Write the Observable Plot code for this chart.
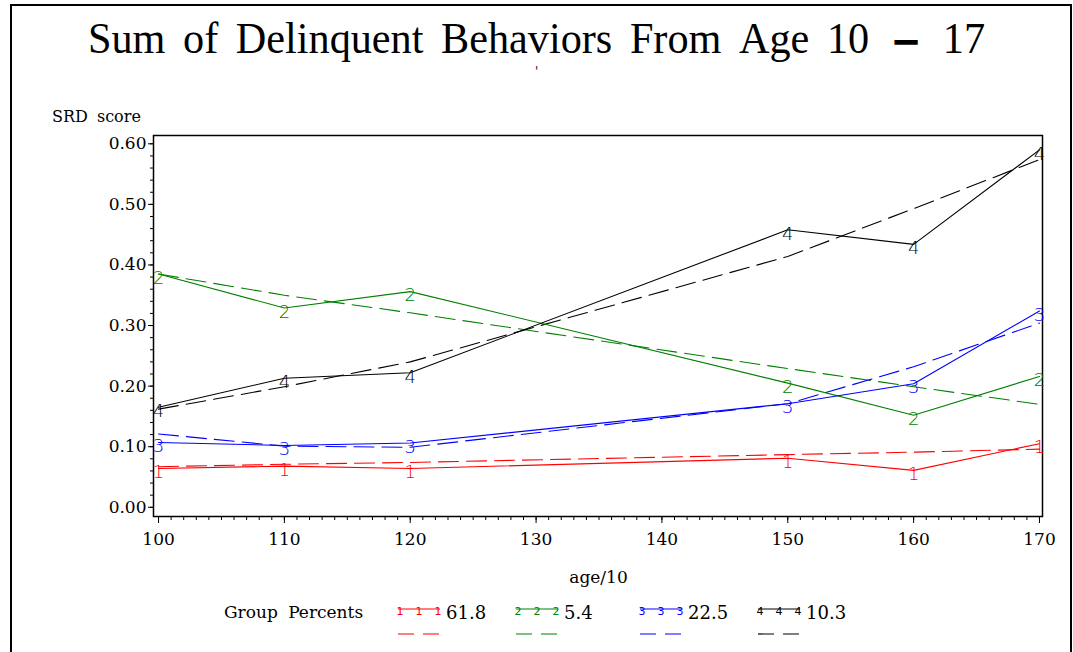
<!DOCTYPE html>
<html>
<head>
<meta charset="utf-8">
<script src="https://cdn.jsdelivr.net/npm/d3@7"></script>
<script src="https://cdn.jsdelivr.net/npm/@observablehq/plot@0.6"></script>
<style>
  html, body { margin: 0; padding: 0; background: #fff; }
  #wrap { position: relative; width: 1073px; height: 652px; overflow: hidden; font-family: "DejaVu Serif", serif; color: #000; }
  #wrap svg.plot { position: absolute; left: 0; top: 0; }
  .abs { position: absolute; white-space: pre; line-height: 1; }
  #border { position: absolute; left: 10px; top: 4px; width: 1062px; height: 700px; border: 2px solid #000; box-sizing: border-box; }
</style>
</head>
<body>
<div id="wrap">
  <div id="border"></div>
</div>
<script>
// ---- data ----
const ages = [100, 110, 120, 150, 160, 170];
const groups = [1, 2, 3, 4];
const groupPercents = ["61.8", "5.4", "22.5", "10.3"];
const groupColors = ["#ff0000", "#008000", "#0000ff", "#000000"];

const observed1 = [0.064, 0.068, 0.064, 0.081, 0.061, 0.105];
const observed2 = [0.385, 0.329, 0.356, 0.205, 0.152, 0.216];
const observed3 = [0.107, 0.102, 0.106, 0.171, 0.204, 0.324];
const observed4 = [0.165, 0.213, 0.222, 0.458, 0.434, 0.590];

const fitted1 = [0.067, 0.071, 0.074, 0.087, 0.091, 0.096];
const fitted2 = [0.385, 0.350, 0.321, 0.229, 0.199, 0.170];
const fitted3 = [0.121, 0.101, 0.099, 0.171, 0.232, 0.304];
const fitted4 = [0.162, 0.199, 0.240, 0.414, 0.493, 0.574];

const yMajorTicks = [0, 0.1, 0.2, 0.3, 0.4, 0.5, 0.6];
const xMajorTicks = [100, 110, 120, 130, 140, 150, 160, 170];

const titleWords = ["Sum", "of", "Delinquent", "Behaviors", "From", "Age", "10", "\u2013", "17"];
const yLabel = "SRD score";
const xLabel = "age/10";
const legendTitle = "Group Percents";

// ---- build tables ----
const observedSeries = [observed1, observed2, observed3, observed4];
const fittedSeries = [fitted1, fitted2, fitted3, fitted4];
const obs = [], fit = [];
groups.forEach((g, i) => {
  ages.forEach((a, j) => {
    obs.push({group: g, age: a, v: observedSeries[i][j]});
    fit.push({group: g, age: a, v: fittedSeries[i][j]});
  });
});

const yMinor = d3.range(0, 0.6001, 0.02);
const xMinor = d3.range(100, 170.001, 1);

const chart = Plot.plot({
  width: 1073,
  height: 652,
  marginLeft: 153,
  marginRight: 31,
  marginTop: 135,
  marginBottom: 136,
  x: {domain: [99.6, 170.24]},
  y: {domain: [-0.0152, 0.6137]},
  color: {domain: groups, range: groupColors},
  style: {fontFamily: "DejaVu Serif", fontSize: "17px", background: "transparent", overflow: "visible"},
  marks: [
    Plot.frame({stroke: "#000", strokeWidth: 1.5}),
    Plot.axisY({ticks: yMinor, tickSize: 3, tickFormat: () => "", label: null, strokeWidth: 1}),
    Plot.axisY({ticks: yMajorTicks, tickSize: 5, tickPadding: 2, tickFormat: d3.format(".2f"), label: null, fontSize: 17}),
    Plot.axisX({ticks: xMinor, tickSize: 4, tickFormat: () => "", label: null}),
    Plot.axisX({ticks: xMajorTicks, tickSize: 7, tickPadding: 9, tickFormat: d3.format("d"), label: null, fontSize: 17}),
    Plot.lineY(fit, {x: "age", y: "v", z: "group", stroke: "group", strokeWidth: 1.1, strokeDasharray: "20,8"}),
    Plot.lineY(obs, {x: "age", y: "v", z: "group", stroke: "group", strokeWidth: 1.1}),
    Plot.text(obs, {x: "age", y: "v", text: d => String(d.group), fill: "group", lineAnchor: "middle", dy: 4,
      fontSize: 18, fontFamily: "DejaVu Sans", fontWeight: 200})
  ]
});
chart.classList.add("plot");
const wrap = document.getElementById("wrap");
wrap.insertBefore(chart, wrap.firstChild);

function addText(txt, left, top, size, extra) {
  const d = document.createElement("div");
  d.className = "abs";
  d.textContent = txt;
  d.style.left = left + "px";
  d.style.top = top + "px";
  d.style.fontSize = size + "px";
  Object.assign(d.style, extra || {});
  wrap.appendChild(d);
  return d;
}

// title: SVG text, slightly condensed, word gaps stretched to the reference width
const titleLeft = 88, titleRight = 985, titleScale = 0.96, dashPad = 9;
const tsvg = d3.create("svg").attr("width", 1073).attr("height", 80)
  .style("position", "absolute").style("left", "0px").style("top", "0px");
const tg = tsvg.append("g").attr("transform", `translate(${titleLeft},53) scale(${titleScale},1)`);
const tt = tg.append("text").attr("font-family", "Liberation Serif").attr("font-size", 44).attr("fill", "#000");
titleWords.forEach((w, i) => {
  if (i) tt.append("tspan").text(" ");
  const sp = tt.append("tspan").text(w);
  if (w === "\u2013") sp.attr("font-weight", "bold").attr("stroke", "#000").attr("stroke-width", 1.6).attr("dx", dashPad);
  if (w === "17") sp.attr("dx", dashPad);
});
wrap.appendChild(tsvg.node());
const natural = tt.node().getComputedTextLength();
const extra = ((titleRight - titleLeft) / titleScale - natural - 2 * dashPad) / (titleWords.length - 1);
tt.attr("word-spacing", extra);

// stray subtitle mark
addText("'", 535, 66, 12, {fontFamily: "DejaVu Serif"});
// axis labels
addText(yLabel, 52, 109, 16, {wordSpacing: "4px"});
addText(xLabel, 0, 569, 17, {width: "1073px", textAlign: "center", left: "62px"});
// legend
addText(legendTitle, 224, 604, 17, {wordSpacing: "5px"});
const legendX = [398, 516, 640, 758];
groups.forEach((g, i) => {
  const s = d3.create("svg").attr("width", 44).attr("height", 40)
    .style("position", "absolute").style("left", legendX[i] + "px").style("top", "600px").style("overflow", "visible");
  s.append("line").attr("x1", 0).attr("x2", 42).attr("y1", 9).attr("y2", 9).attr("stroke", groupColors[i]).attr("stroke-width", 1);
  [2, 21, 40].forEach(x => s.append("text").attr("x", x).attr("y", 7).attr("text-anchor", "middle")
    .attr("dominant-baseline", "hanging").attr("font-family", "DejaVu Sans").attr("font-size", 11)
    .attr("fill", groupColors[i]).text(String(g)));
  s.append("line").attr("x1", 0).attr("x2", 42).attr("y1", 34).attr("y2", 34).attr("stroke", groupColors[i])
    .attr("stroke-width", 1.2).attr("stroke-dasharray", "16,9");
  wrap.appendChild(s.node());
  addText(groupPercents[i], legendX[i] + 48, 604, 18);
});
</script>
</body>
</html>
